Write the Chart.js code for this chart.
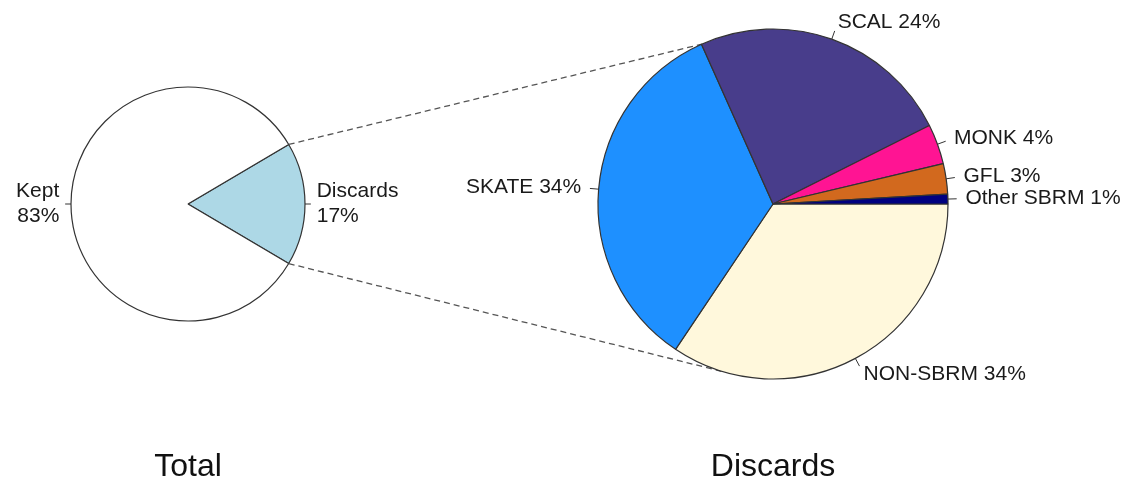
<!DOCTYPE html>
<html>
<head>
<meta charset="utf-8">
<script src="https://cdn.jsdelivr.net/npm/chart.js@4/dist/chart.umd.min.js"></script>
<style>
  html, body { margin: 0; padding: 0; background: #fff; }
  #wrap { position: relative; width: 1139px; height: 480px; }
  .layer { position: absolute; left: 0; top: 0; width: 1139px; height: 480px; }
</style>
</head>
<body>
<div id="wrap">
  <div class="layer"><canvas id="totalPie"></canvas></div>
  <div class="layer"><canvas id="discardPie"></canvas></div>
</div>
<script>
// values (percent of catch)
var totalLabels = ["Discards", "Kept"];
var totalValues = [17, 83];
var totalColors = ["#ADD8E6", "#FFFFFF"];

// counter-clockwise from 3 o'clock, the way R's pie() lays them out
var discardLabels = ["Other SBRM", "GFL", "MONK", "SCAL", "SKATE", "NON-SBRM"];
var discardValues = [0.9, 2.8, 3.7, 24.3, 33.9, 34.4];
var discardColors = ["#000080", "#D2691E", "#FF1493", "#483D8B", "#1E90FF", "#FFF8DC"];

var FONT = '"Liberation Sans", Arial, sans-serif';

// R style labels: small tick out of the slice, text at 1.1 * radius
var sliceLabels = {
    id: 'sliceLabels',
    afterDatasetsDraw: function(chart, args, opts) {
        var ctx = chart.ctx;
        var meta = chart.getDatasetMeta(0);
        var data = chart.data.datasets[0].data;
        var total = data.reduce(function(a, b){ return a + b; }, 0);
        ctx.save();
        ctx.font = '21px ' + FONT;
        ctx.fillStyle = '#1a1a1a';
        ctx.strokeStyle = '#333';
        ctx.lineWidth = 1;
        ctx.textBaseline = 'middle';
        meta.data.forEach(function(arc, i) {
            var mid = (arc.startAngle + arc.endAngle) / 2;
            var r = arc.outerRadius;
            var c = Math.cos(mid), s = Math.sin(mid);
            ctx.beginPath();
            ctx.moveTo(arc.x + r * c, arc.y + r * s);
            ctx.lineTo(arc.x + 1.05 * r * c, arc.y + 1.05 * r * s);
            ctx.stroke();
            var pct = Math.round(data[i] / total * 100) + '%';
            var name = chart.data.labels[i];
            var lines = opts.twoLines ? [name, pct] : [name + ' ' + pct];
            var lh = 25;
            ctx.textAlign = c < 0 ? 'right' : 'left';
            var tx = arc.x + 1.1 * r * c;
            var ty = arc.y + 1.1 * r * s - (lines.length - 1) * lh / 2;
            lines.forEach(function(t, k){ ctx.fillText(t, tx, ty + k * lh); });
        });
        // caption under the pie
        ctx.font = '32px ' + FONT;
        ctx.fillStyle = '#111';
        ctx.textAlign = 'center';
        ctx.textBaseline = 'alphabetic';
        ctx.fillText(opts.title, meta.data[0].x, 476);
        ctx.restore();
    }
};

var totalChart;

// dashed lines from the discard slice to the big pie
var connectors = {
    id: 'connectors',
    beforeDatasetsDraw: function(chart, args, opts) {
        var src = totalChart.getDatasetMeta(0).data[0];
        var dst = chart.getDatasetMeta(0).data[0];
        var ctx = chart.ctx;
        ctx.save();
        ctx.setLineDash([6, 4]);
        ctx.strokeStyle = '#555';
        ctx.lineWidth = 1.3;
        [[src.startAngle, opts.upperAngle], [src.endAngle, opts.lowerAngle]].forEach(function(p) {
            var a = p[0], b = p[1] * Math.PI / 180;
            ctx.beginPath();
            ctx.moveTo(src.x + src.outerRadius * Math.cos(a), src.y + src.outerRadius * Math.sin(a));
            ctx.lineTo(dst.x + dst.outerRadius * Math.cos(b), dst.y + dst.outerRadius * Math.sin(b));
            ctx.stroke();
        });
        ctx.restore();
    }
};

function pieOptions(radius, padding, rotation, labelOpts, extra) {
    var plugins = {
        legend: {display: false},
        tooltip: {enabled: false},
        sliceLabels: labelOpts
    };
    if (extra) plugins.connectors = extra;
    return {
        responsive: true,
        maintainAspectRatio: false,
        animation: false,
        events: [],
        radius: radius,
        rotation: rotation,
        layout: {padding: padding},
        plugins: plugins
    };
}

window.onload = function () {
    // discard slice centred on 3 o'clock
    totalChart = new Chart(document.getElementById('totalPie').getContext('2d'), {
        type: 'pie',
        data: {
            labels: totalLabels,
            datasets: [{
                data: totalValues,
                backgroundColor: totalColors,
                borderColor: '#333',
                borderWidth: 1.2
            }]
        },
        options: pieOptions(117, {left: 0, right: 763, top: 0, bottom: 72},
            90 - totalValues[0] * 3.6 / 2, {twoLines: true, title: 'Total'}),
        plugins: [sliceLabels]
    });

    // chart.js goes clockwise, so feed the slices reversed starting at 3 o'clock
    new Chart(document.getElementById('discardPie').getContext('2d'), {
        type: 'pie',
        data: {
            labels: discardLabels.slice().reverse(),
            datasets: [{
                data: discardValues.slice().reverse(),
                backgroundColor: discardColors.slice().reverse(),
                borderColor: '#333',
                borderWidth: 1.2
            }]
        },
        options: pieOptions(175, {left: 407, right: 0, top: 0, bottom: 72},
            90, {twoLines: false, title: 'Discards'}, {upperAngle: -114, lowerAngle: 107}),
        plugins: [connectors, sliceLabels]
    });
};
</script>
</body>
</html>
